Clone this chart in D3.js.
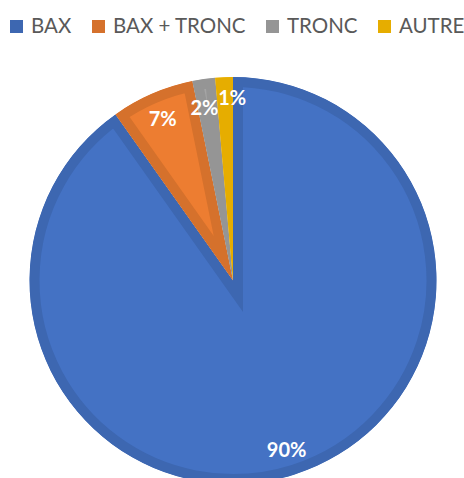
<!DOCTYPE html>
<html>
<head>
<meta charset="utf-8">
<script src="https://cdn.jsdelivr.net/npm/d3@7"></script>
<style>
  body { margin: 0; background: #fff; }
  svg { display: block; font-family: Lato, "Open Sans", sans-serif; }
</style>
</head>
<body>
<div class="pie"></div>
<script>
// data (share of each category, in %)
var categories = ["BAX", "BAX + TRONC", "TRONC", "AUTRE"];
var shares = [90.2, 6.6, 1.8, 1.4];
var fillColors = ["#4472C4", "#ED7D31", "#A5A5A5", "#FFC000"];
var edgeColors = ["#3D67B1", "#D5712C", "#959595", "#E6AD00"];

var svgWidth = 464;
var svgHeight = 478;

var svg = d3.select(".pie")
    .append("svg")
    .attr("width", svgWidth)
    .attr("height", svgHeight);

var pieData = categories.map(function(c, i) {
    return { name: c, value: shares[i], i: i };
});

var radius = 203.5;
var cx = 233, cy = 280.5;

var pie = d3.pie()
    .sort(null)
    .value(d => d.value);

var arc = d3.arc()
    .innerRadius(0)
    .outerRadius(radius);

var labelArc = d3.arc()
    .innerRadius(177)
    .outerRadius(177);

var arcs = pie(pieData);

var defs = svg.append("defs");
defs.selectAll("clipPath")
    .data(arcs)
    .enter()
    .append("clipPath")
    .attr("id", d => "clip" + d.data.i)
    .append("path")
    .attr("transform", `translate(${cx},${cy})`)
    .attr("d", arc);

var chartGroup = svg.append("g");

// slices with an inner darker edge (stroke clipped to the slice)
chartGroup.selectAll(".slice")
    .data(arcs)
    .enter()
    .append("g")
    .attr("clip-path", d => `url(#clip${d.data.i})`)
    .append("path")
    .attr("class", "slice")
    .attr("transform", `translate(${cx},${cy})`)
    .attr("d", arc)
    .attr("fill", d => fillColors[d.data.i])
    .attr("stroke", d => edgeColors[d.data.i])
    .attr("stroke-width", 20)
    .attr("stroke-linejoin", "miter");

// percentage labels (the two tiny slices pushed apart a little so they don't collide)
var labelNudge = [[0, 0], [0, 0], [-3, 2], [7, -7]];
chartGroup.selectAll(".lbl")
    .data(arcs)
    .enter()
    .append("text")
    .attr("class", "lbl")
    .attr("x", d => cx + labelArc.centroid(d)[0] + labelNudge[d.data.i][0])
    .attr("y", d => cy + labelArc.centroid(d)[1] + labelNudge[d.data.i][1])
    .attr("text-anchor", "middle")
    .attr("dominant-baseline", "central")
    .attr("fill", "#fff")
    .attr("font-weight", "bold")
    .attr("font-size", "20px")
    .text(d => Math.round(d.data.value) + "%");

// legend
var legendX = [10, 92, 266, 378];
var legend = svg.append("g")
    .selectAll("g")
    .data(pieData)
    .enter()
    .append("g")
    .attr("transform", (d, i) => `translate(${legendX[i]},20)`);

legend.append("rect")
    .attr("width", 13)
    .attr("height", 13)
    .attr("fill", d => edgeColors[d.i]);

legend.append("text")
    .attr("x", 21)
    .attr("y", 13)
    .attr("fill", "#595959")
    .attr("font-size", "20.5px")
    .text(d => d.name);
</script>
</body>
</html>
